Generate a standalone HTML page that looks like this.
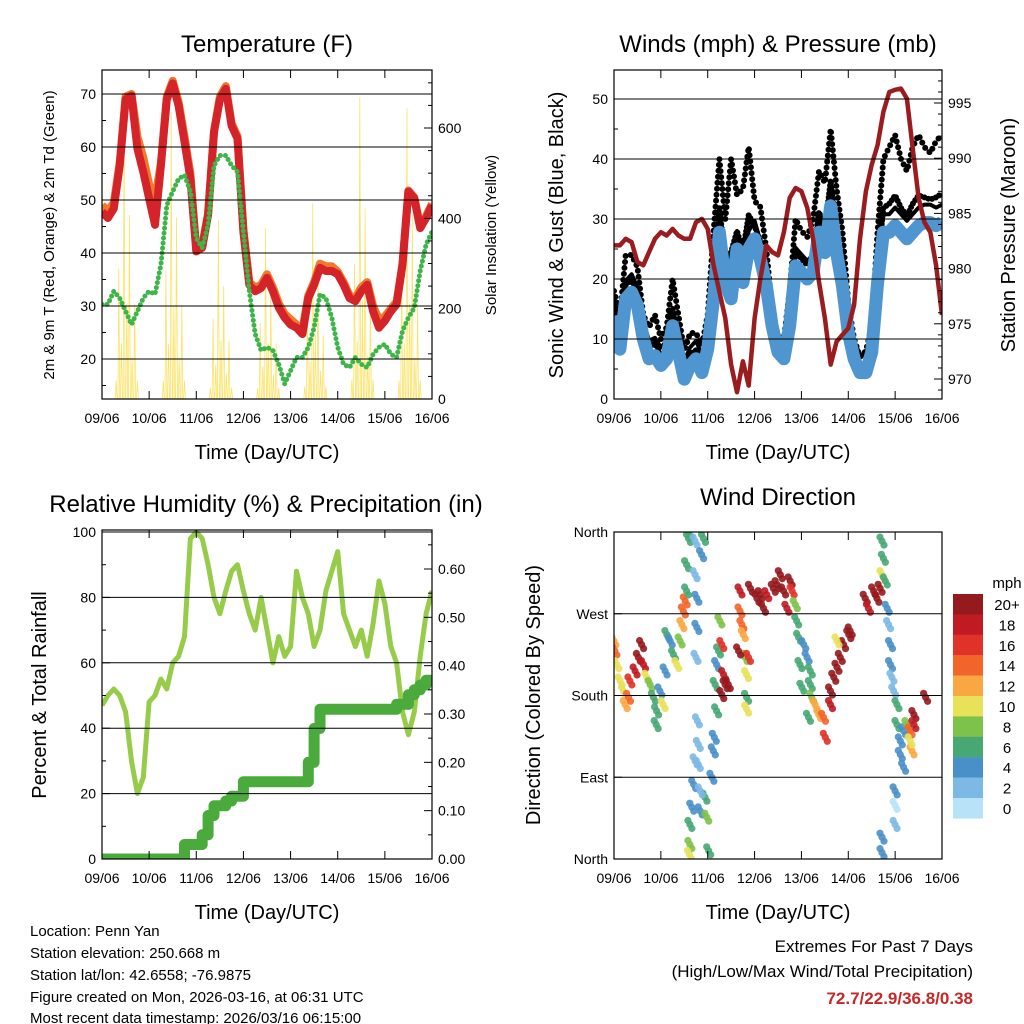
<!DOCTYPE html>
<html><head><meta charset="utf-8"><style>
body{margin:0;background:#fff}
svg{display:block;font-family:"Liberation Sans",sans-serif}
</style></head><body>
<svg id="s" width="1024" height="1024" viewBox="0 0 1024 1024">
<rect width="1024" height="1024" fill="#fff"/>
<g id="p1"></g>
<g id="p2"></g>
<g id="p3"></g>
<g id="p4"></g>
<text x="267" y="52" font-size="24" text-anchor="middle">Temperature (F)</text>
<text x="778" y="52" font-size="24" text-anchor="middle">Winds (mph) &amp; Pressure (mb)</text>
<text x="266" y="512" font-size="24" text-anchor="middle">Relative Humidity (%) &amp; Precipitation (in)</text>
<text x="778" y="505" font-size="24" text-anchor="middle">Wind Direction</text>
<text x="267" y="459" font-size="20" text-anchor="middle">Time (Day/UTC)</text>
<text x="778" y="459" font-size="20" text-anchor="middle">Time (Day/UTC)</text>
<text x="267" y="919" font-size="20" text-anchor="middle">Time (Day/UTC)</text>
<text x="778" y="919" font-size="20" text-anchor="middle">Time (Day/UTC)</text>
<text transform="translate(54,235) rotate(-90)" font-size="15" text-anchor="middle">2m &amp; 9m T (Red, Orange) &amp; 2m Td (Green)</text>
<text transform="translate(496,235) rotate(-90)" font-size="15" text-anchor="middle">Solar Insolation (Yellow)</text>
<text transform="translate(563,235) rotate(-90)" font-size="20" text-anchor="middle">Sonic Wind &amp; Gust (Blue, Black)</text>
<text transform="translate(1015,235) rotate(-90)" font-size="20" text-anchor="middle">Station Pressure (Maroon)</text>
<text transform="translate(46,695) rotate(-90)" font-size="20" text-anchor="middle">Percent &amp; Total Rainfall</text>
<text transform="translate(540,695) rotate(-90)" font-size="20" text-anchor="middle">Direction (Colored By Speed)</text>
<g font-size="15">
<text x="30" y="936">Location: Penn Yan</text>
<text x="30" y="958">Station elevation: 250.668 m</text>
<text x="30" y="980">Station lat/lon: 42.6558; -76.9875</text>
<text x="30" y="1002">Figure created on Mon, 2026-03-16, at 06:31 UTC</text>
<text x="30" y="1023">Most recent data timestamp: 2026/03/16 06:15:00</text>
</g>
<g font-size="17" text-anchor="end">
<text x="973" y="952">Extremes For Past 7 Days</text>
<text x="973" y="977">(High/Low/Max Wind/Total Precipitation)</text>
<text x="973" y="1004" font-weight="bold" fill="#c62828">72.7/22.9/36.8/0.38</text>
</g>
<g id="cb"></g>
</svg>
<script>
const dayLabels=["09/06","10/06","11/06","12/06","13/06","14/06","15/06","16/06"];
// 3-hourly series (57 points from day 0 to 7)
const temp2m=[47.8,46.6,48.4,56.5,69,69.7,59.7,55.3,50.3,45.3,56.5,69,72,67.8,61,54,40.3,41,47.2,62.8,69,71,64,61.6,44,34,32.8,33.4,35.3,32.8,29.7,27.8,26.5,25.9,24.7,31.5,34,37.2,36.6,36.6,36,34,31.5,30.9,32.8,34,29,25.9,27.2,29,30.3,37.8,51.6,50.3,44.7,46.6,49];
const temp9m=[49,48,49.5,57,69.5,70,62,58,53,50,57,69.5,72.5,68.5,62,55,40.5,41.5,47.5,63,69.5,71.5,64.5,62,44.5,34.5,33.5,34,36,33.5,30.5,28.5,27.5,26.5,25.5,32,34.5,38,37.5,37.5,36.5,34.5,32,31.5,33.5,34.5,30,27.5,28,29.5,30.8,38,51.8,50.5,45,47,49.3];
const dew2m=[30.3,30.3,32.8,31.5,29,26.5,29,31.5,32.8,32.2,37.8,49,51.6,54,54.7,51.6,42.8,41,45.3,56.5,58.4,58.4,56.5,55.3,44,32.8,24.7,21.6,22.2,21.6,19,15.3,17.8,20.3,20.3,22.2,25.9,32.2,31.5,27.8,22.2,19,18.4,20.3,19,18.4,20.9,22.2,22.8,20.9,20.3,25.3,27.8,29.7,36.6,41.6,44];
const solarPeak=[700,690,430,410,470,725,700];
const solarPattern=[0.1,0.55,0.2,0.95,0.3,0.6,0.15,0.4,0.1];
const windSpeed=[13.9,8.3,16.7,17.8,15.6,10,6.7,7.2,5.6,6.7,12.2,7.8,3.3,5.6,6.7,4.4,8.3,16.7,27.8,19.4,16.7,25,19.4,25,26.7,23.3,18.9,12.2,7.8,6.7,12.2,22.2,21.1,20,21.1,27.8,24.4,32.2,24.4,18.9,11.1,6.7,4.4,4.4,7.8,19.4,27.8,27.8,28.9,27.8,26.7,27.8,28.9,29.4,29.4,28.9,29.4];
const windGust=[18,14,24,24,22,14,12,14,10,12,20,14,8,11,11,9,14,28,40,30,40,34,35,42,33,32,25,15,10,10,18,30,28,27,30,38,36,45,35,28,16,10,7,8,12,28,40,42,44,40,38,42,44,42,41,43,44];
const pressure=[982.1,982.1,982.7,982.4,980.6,980.3,981.5,982.7,983.3,983,983.6,983,982.7,982.7,984.2,984.5,983.6,980.3,977.9,975.5,971.3,968.8,971.6,969.4,975.5,979.1,982.1,981.5,981.2,983.3,986.4,987.3,987,985.5,982.7,978.8,975.5,971.3,973.4,974,974.6,976.7,982.7,987,989.4,991.2,994.2,996,996.2,996.3,995.4,990.9,986.4,984.2,983.3,980.3,975.8];
const rh=[47,50,52,50,45,30,20,25,48,50,55,52,60,62,68,98,100,98,90,80,75,82,88,90,82,75,70,80,70,60,68,62,65,88,80,75,65,70,82,88,94,75,70,65,70,62,72,85,78,65,60,45,38,45,62,75,82];
const precip=[0,0,0,0,0,0,0,0,0,0,0,0,0,0,0.03,0.03,0.03,0.05,0.09,0.11,0.11,0.12,0.13,0.13,0.16,0.16,0.16,0.16,0.16,0.16,0.16,0.16,0.16,0.16,0.16,0.2,0.27,0.31,0.31,0.31,0.31,0.31,0.31,0.31,0.31,0.31,0.31,0.31,0.31,0.31,0.32,0.32,0.34,0.35,0.36,0.37,0.38];
// wind direction scatter
const dirDay=[0,0.02,0.06,0.13,0.2,0.24,0.31,0.34,0.45,0.52,0.59,0.63,0.7,0.77,0.84,0.91,0.9,0.98,1.05,1.09,1.13,1.2,1.27,1.34,1.41,1.45,1.48,1.52,1.55,1.55,1.59,1.59,1.73,1.73,1.77,1.77,1.75,1.78,1.8,1.73,1.8,1.7,1.66,1.62,1.62,1.61,1.84,1.94,1.98,2.02,2.09,2.12,2.14,1.91,1.87,1.84,2.19,2.16,2.19,2.23,2.26,2.3,2.34,2.37,2.44,2.3,2.69,2.69,2.73,2.76,2.8,2.83,2.87,2.83,2.83,2.66,2.91,3.05,3.19,3.12,3.26,3.4,3.48,3.55,3.62,3.69,3.76,3.8,3.87,3.9,3.94,3.97,4.01,4.05,4.12,4.19,4.19,4.22,4.15,4.29,4.37,4.47,4.51,4.62,4.62,4.69,4.76,4.83,4.9,5.01,5.04,4.76,5.36,5.43,5.54,5.61,5.68,5.72,5.75,5.72,5.79,5.83,5.86,5.9,5.9,5.93,5.97,6.04,6.04,6.11,6.11,6.18,6.18,6.25,6.32,6.36,6.4,6.4,6.65,6,6,6,5.72,5.72,6.32];
const dirDeg=[240,229,214,196,185,170,178,196,207,222,236,214,200,192,178,163,148,185,170,207,247,240,225,214,240,258,273,284,295,324,353,360,350,313,287,255,222,152,126,108,104,82,57,38,16,5,53,68,46,9,90,119,134,353,335,75,163,192,214,229,262,236,203,192,192,181,295,273,258,247,222,203,222,178,165,229,298,287,276,291,291,298,302,313,295,276,306,295,280,262,244,214,189,236,222,207,192,178,156,170,159,156,134,170,185,200,211,222,236,247,251,240,287,276,295,287,298,313,331,350,306,276,258,236,214,200,185,170,148,130,115,101,141,148,141,119,159,148,178,75,59,38,24,7,130];
const dirSpd=[12,14,10,10,10,12,14,16,18,20,20,18,10,8,6,6,6,4,10,4,6,4,6,10,8,12,14,14,6,6,6,6,2,2,4,4,2,2,2,2,2,4,4,6,8,10,4,6,8,6,4,4,4,6,4,2,6,6,4,6,8,16,18,20,20,20,18,14,14,12,8,10,16,6,10,20,20,20,20,20,18,20,20,20,20,18,20,16,8,6,6,6,6,4,4,6,6,8,6,12,12,14,16,18,20,20,20,20,20,20,20,10,20,18,20,20,20,10,6,6,6,4,2,4,4,2,2,6,6,4,4,4,4,8,14,12,20,18,20,4,0,2,4,4,10];
const speedColors=["#b8e2f8","#7cb9e5","#4a90c8","#47a873","#7dc24a","#e8e15a","#f9a740","#f26529","#e03228","#c01b23","#951a1d"];
const speedLabels=["0","2","4","6","8","10","12","14","16","18","20+"];

const NS="http://www.w3.org/2000/svg";
function mk(parent,tag,attrs){const e=document.createElementNS(NS,tag);for(const k in attrs)e.setAttribute(k,attrs[k]);parent.appendChild(e);return e;}
function panel(g,x0,x1,y0,y1){return {x0,x1,y0,y1,g,sx:d=>x0+(x1-x0)*d/7};}
function lin(v0,v1,p0,p1){return v=>p0+(v-v0)*(p1-p0)/(v1-v0);}
function frame(P,name){
  for(let i=0;i<=7;i++){const x=P.sx(i);
    let t=mk(P.g,'line',{x1:x,x2:x,y1:P.y1,y2:P.y1-8,stroke:'#000','stroke-width':1});
    
    mk(P.g,'line',{x1:x,x2:x,y1:P.y0,y2:P.y0+8,stroke:'#000','stroke-width':1});
    let l=mk(P.g,'text',{x:x,y:P.y1+24,'font-size':14,'text-anchor':'middle'});l.textContent=dayLabels[i];
    
  }
  const r=mk(P.g,'rect',{x:P.x0,y:P.y0,width:P.x1-P.x0,height:P.y1-P.y0,fill:'none',stroke:'#000','stroke-width':1.2});
  
}
function yaxis(P,sy,ticks,labels,side,minor,grid){
  ticks.forEach((v,i)=>{const y=sy(v);
    if(grid&&y>P.y0+1&&y<P.y1-1){const gl=mk(P.g,'line',{x1:P.x0,x2:P.x1,y1:y,y2:y,stroke:'#000','stroke-width':1});}
    const x=side=='l'?P.x0:P.x1, d=side=='l'?8:-8;
    mk(P.g,'line',{x1:x,x2:x+d,y1:y,y2:y,stroke:'#000'});
    const t=mk(P.g,'text',{x:side=='l'?x-6:x+6,y:y+5,'font-size':14,'text-anchor':side=='l'?'end':'start'});t.textContent=labels[i];
    
  });
  minor.forEach(v=>{const y=sy(v);const x=side=='l'?P.x0:P.x1;mk(P.g,'line',{x1:x,x2:x+(side=='l'?4:-4),y1:y,y2:y,stroke:'#000'});});
}
function path(P,vals,sy,attrs,name){const d=vals.map((v,i)=>(i?'L':'M')+P.sx(i*0.125).toFixed(1)+' '+sy(v).toFixed(1)).join('');
  const p=mk(P.g,'path',Object.assign({d,fill:'none'},attrs));return p;}
function clip(P,id){const c=mk(document.getElementById('s'),'clipPath',{id});mk(c,'rect',{x:P.x0,y:P.y0,width:P.x1-P.x0,height:P.y1-P.y0});const g=mk(P.g,'g',{'clip-path':'url(#'+id+')'});return g;}

// Panel 1
{const P=panel(document.getElementById('p1'),102,432,70,399);
 const sy=lin(20,70,359,94), sr=lin(0,600,399,128);
 const C=clip(P,'c1');const Q=Object.assign({},P,{g:C});
 solarPeak.forEach((pk,dI)=>{let d='';const n=solarPattern.length;
   for(let j=0;j<n;j++){const tt=dI+0.3+0.45*j/(n-1);const env=Math.sin(Math.PI*(j+0.5)/n);
     const v=pk*solarPattern[j]*(0.5+0.5*env);
     d+=(j?'L':'M')+P.sx(tt-0.02).toFixed(1)+' '+sr(0)+'L'+P.sx(tt).toFixed(1)+' '+sr(v).toFixed(1)+'L'+P.sx(tt+0.02).toFixed(1)+' '+sr(0);}
   const p=mk(C,'path',{d,fill:'none',stroke:'#fbe36a','stroke-width':0.8});
   });
 path(Q,temp9m,sy,{stroke:'#f07a2a','stroke-width':8,'stroke-linejoin':'round'},'temp-9m-line');
 path(Q,temp2m,sy,{stroke:'#d42329','stroke-width':8,'stroke-linejoin':'round'},'temp-2m-line');
 path(Q,dew2m,sy,{stroke:'#3db548','stroke-width':5,'stroke-dasharray':'0 5','stroke-linecap':'round'},'dewpoint-line');
 yaxis(P,sy,[20,30,40,50,60,70],['20','30','40','50','60','70'],'l',[15,25,35,45,55,65],true);
 yaxis(P,sr,[0,200,400,600],['0','200','400','600'],'r',[50,100,150,250,300,350,450,500,550,650,700],false);
 frame(P,'temperature');}
// Panel 2
{const P=panel(document.getElementById('p2'),614,942,70,399);
 const sy=lin(0,50,399,99), sp=lin(970,995,379,103);
 const C=clip(P,'c2');const Q=Object.assign({},P,{g:C});
 path(Q,windGust,sy,{stroke:'#000','stroke-width':6,'stroke-dasharray':'0 6','stroke-linecap':'round'},'gust-points');
 path(Q,windGust.map((g,i)=>(g+windSpeed[i]*2)/3),sy,{stroke:'#000','stroke-width':6,'stroke-dasharray':'0 4','stroke-linecap':'round'},'gust-points-lower');
 path(Q,windSpeed.map((s,i)=>s+3),sy,{stroke:'#000','stroke-width':4,'stroke-linejoin':'round'},'gust-edge');
 path(Q,windSpeed,sy,{stroke:'#4f96d0','stroke-width':13,'stroke-linejoin':'round'},'sonic-wind-band');
 path(Q,pressure,sp,{stroke:'#9b1c1f','stroke-width':4.5,'stroke-linejoin':'round'},'pressure-line');
 yaxis(P,sy,[0,10,20,30,40,50],['0','10','20','30','40','50'],'l',[5,15,25,35,45],true);
 yaxis(P,sp,[970,975,980,985,990,995],['970','975','980','985','990','995'],'r',[969,971,972,973,974,976,977,978,979,981,982,983,984,986,987,988,989,991,992,993,994,996,997,998],false);
 frame(P,'winds');}
// Panel 3
{const P=panel(document.getElementById('p3'),102,432,530,859);
 const sy=lin(0,100,859,532), sr=lin(0,0.6,859,569);
 const C=clip(P,'c3');const Q=Object.assign({},P,{g:C});
 path(Q,rh,sy,{stroke:'#97cc4a','stroke-width':5,'stroke-linejoin':'round'},'humidity-line');
 const pd=precip.map((v,i)=>(i?'L'+P.sx(i*0.125).toFixed(1)+' '+sr(precip[i-1]).toFixed(1)+'L':'M')+P.sx(i*0.125).toFixed(1)+' '+sr(v).toFixed(1)).join('');
 const pp=mk(C,'path',{d:pd,fill:'none',stroke:'#4aab3c','stroke-width':11,'stroke-linejoin':'round'});
 
 yaxis(P,sy,[0,20,40,60,80,100],['0','20','40','60','80','100'],'l',[10,30,50,70,90],true);
 yaxis(P,sr,[0,0.1,0.2,0.3,0.4,0.5,0.6],['0.00','0.10','0.20','0.30','0.40','0.50','0.60'],'r',[0.05,0.15,0.25,0.35,0.45,0.55,0.65],false);
 frame(P,'humidity');}
// Panel 4
{const P=panel(document.getElementById('p4'),614,942,532,859);
 const sy=lin(0,360,859,532);
 const C=clip(P,'c4');
 yaxis(P,sy,[0,90,180,270,360],['North','East','South','West','North'],'l',[],true);
 dirDay.forEach((d,i)=>{const ci=Math.min(10,Math.round(dirSpd[i]/2));
   [-4,0,4].forEach(off=>{
   const c=mk(C,'circle',{cx:(P.sx(d)+off/2).toFixed(1),cy:(sy(dirDeg[i])+off).toFixed(1),r:3.6,fill:speedColors[ci],'fill-opacity':0.9});
   });});
 frame(P,'direction');}
// Colorbar
{const g=document.getElementById('cb');
 const t=mk(g,'text',{x:1007,y:588,'font-size':15,'text-anchor':'middle'});t.textContent='mph';
 for(let k=10;k>=0;k--){const y=594+(10-k)*20.4;
   const r=mk(g,'rect',{x:953,y:y,width:30,height:20.6,fill:speedColors[k]});
   
   const l=mk(g,'text',{x:1007,y:y+16,'font-size':15,'text-anchor':'middle'});l.textContent=speedLabels[k];
   }}
</script>
</body></html>
